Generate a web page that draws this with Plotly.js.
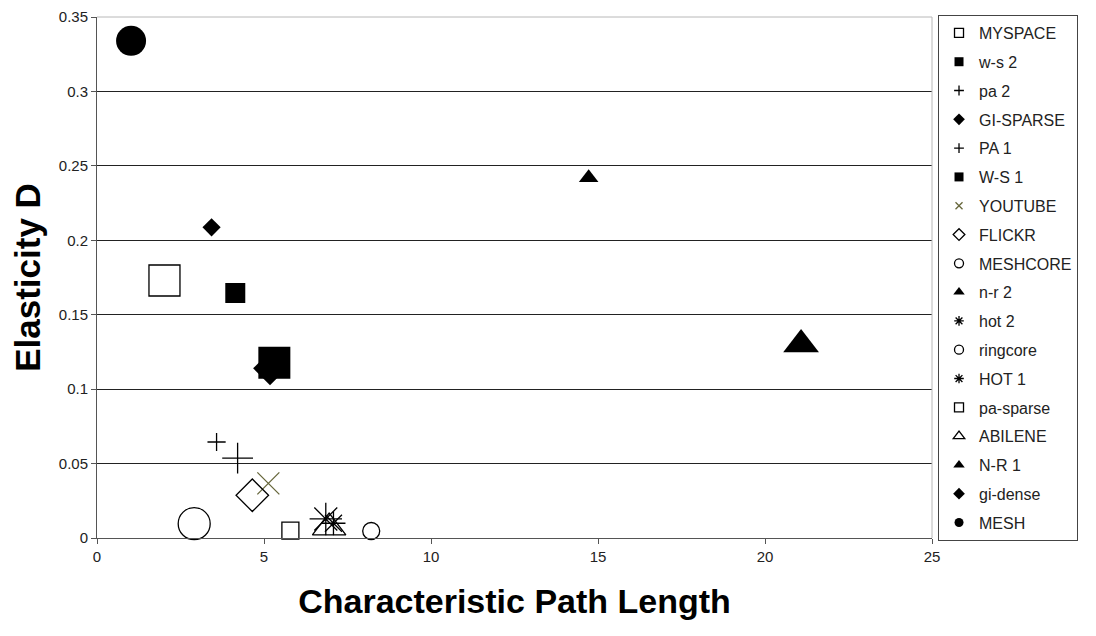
<!DOCTYPE html>
<html>
<head>
<meta charset="utf-8">
<script src="https://cdn.plot.ly/plotly-3.0.1.min.js"></script>
<style>
  html, body { margin: 0; padding: 0; background: #fff; }
  #chart { width: 1096px; height: 636px; }
</style>
</head>
<body>
<div id="chart"></div>
<script>
// series in legend order
const seriesNames = ["MYSPACE", "w-s 2", "pa 2", "GI-SPARSE", "PA 1", "W-S 1", "YOUTUBE", "FLICKR", "MESHCORE",
    "n-r 2", "hot 2", "ringcore", "HOT 1", "pa-sparse", "ABILENE", "N-R 1", "gi-dense", "MESH"];
const pathLength = [2.02, 4.14, 3.58, 3.43, 4.21, 5.31, 5.13, 4.65, 2.91,
    14.72, 7.08, 8.21, 6.85, 5.79, 6.95, 21.08, 5.18, 1.02];
const elasticity = [0.173, 0.1646, 0.0645, 0.2087, 0.0537, 0.1178, 0.0367, 0.0287, 0.0096,
    0.242, 0.0099, 0.0047, 0.0128, 0.0049, 0.0070, 0.130, 0.114, 0.334];

const xTickVals = [0, 5, 10, 15, 20, 25];
const yTickVals = [0, 0.05, 0.1, 0.15, 0.2, 0.25, 0.3, 0.35];

// marker look per series (symbol, size on plot, size in legend, colour)
const styles = {
    "MYSPACE":   { symbol: "square-open", size: 31, lsize: 9 },
    "w-s 2":     { symbol: "square", size: 20, lsize: 9 },
    "pa 2":      { symbol: "cross-thin-open", size: 13, lsize: 7 },
    "GI-SPARSE": { symbol: "diamond", size: 14, lsize: 9 },
    "PA 1":      { symbol: "cross-thin-open", size: 22, lsize: 7 },
    "W-S 1":     { symbol: "square", size: 32, lsize: 9 },
    "YOUTUBE":   { symbol: "x-thin-open", size: 22, lsize: 7, color: "#66663a" },
    "FLICKR":    { symbol: "diamond-open", size: 25, lsize: 9 },
    "MESHCORE":  { symbol: "circle-open", size: 32, lsize: 9 },
    "n-r 2":     { symbol: "triangle-up", size: 17, lsize: 10 },
    "hot 2":     { symbol: "asterisk-open", size: 20, lsize: 8 },
    "ringcore":  { symbol: "circle-open", size: 17, lsize: 9 },
    "HOT 1":     { symbol: "asterisk-open", size: 27, lsize: 8 },
    "pa-sparse": { symbol: "square-open", size: 17, lsize: 9 },
    "ABILENE":   { symbol: "triangle-up-open", size: 29, lsize: 10 },
    "N-R 1":     { symbol: "triangle-up", size: 31, lsize: 10 },
    "gi-dense":  { symbol: "diamond", size: 26, lsize: 9 },
    "MESH":      { symbol: "circle", size: 30, lsize: 9 }
};

// gi-dense is drawn before W-S 1 so the big square sits on top of it
const drawOrder = [16, 0, 1, 2, 3, 4, 5, 6, 7, 8, 9, 10, 11, 12, 13, 14, 15, 17];

function markerFor(name, size) {
    let s = styles[name];
    let color = s.color || "#000";
    let open = s.symbol.indexOf("open") >= 0;
    return {
        symbol: s.symbol,
        size: size,
        color: color,
        line: { color: color, width: open ? 1.3 : 0 }
    };
}

let traces = [];

// points on the plot
drawOrder.forEach(i => {
    let name = seriesNames[i];
    traces.push({
        x: [pathLength[i]],
        y: [elasticity[i]],
        type: "scatter",
        mode: "markers",
        name: name,
        legendgroup: name,
        showlegend: false,
        cliponaxis: false,
        marker: markerFor(name, styles[name].size)
    });
});

// legend entries with small symbols
seriesNames.forEach(name => {
    traces.push({
        x: [null],
        y: [null],
        type: "scatter",
        mode: "markers",
        name: name,
        legendgroup: name,
        showlegend: true,
        marker: markerFor(name, styles[name].lsize)
    });
});

const fontFamily = "Liberation Sans, Arial, sans-serif";

let layout = {
    width: 1096,
    height: 636,
    margin: { l: 97, r: 164, t: 17, b: 98 },
    paper_bgcolor: "#fff",
    plot_bgcolor: "#fff",
    font: { family: fontFamily, color: "#222", size: 15 },
    showlegend: true,
    legend: {
        x: 1.0072,
        y: 1.0038,
        xanchor: "left",
        yanchor: "top",
        maxheight: 1,
        bgcolor: "#fff",
        bordercolor: "#444",
        borderwidth: 1,
        traceorder: "grouped",
        tracegroupgap: 5,
        itemwidth: 30,
        font: { family: fontFamily, size: 16, color: "#222" }
    },
    xaxis: {
        range: [0, 25],
        tickvals: xTickVals,
        ticks: "outside",
        ticklen: 5,
        tickcolor: "#555",
        showline: true,
        linecolor: "#555",
        linewidth: 1,
        showgrid: false,
        zeroline: false,
        tickfont: { size: 15, color: "#222" },
        title: {
            text: "Characteristic Path Length",
            font: { family: fontFamily, size: 34, color: "#000", weight: "bold" },
            standoff: 25
        }
    },
    yaxis: {
        range: [0, 0.35],
        tickvals: yTickVals,
        ticks: "outside",
        ticklen: 5,
        tickcolor: "#555",
        showline: true,
        linecolor: "#555",
        linewidth: 1,
        showgrid: true,
        gridcolor: "#222",
        gridwidth: 1,
        zeroline: false,
        tickfont: { size: 15, color: "#222" },
        title: {
            text: "Elasticity D",
            font: { family: fontFamily, size: 35, color: "#000", weight: "bold" },
            standoff: 7
        }
    },
    shapes: [
        { type: "line", xref: "paper", yref: "paper", x0: 0, x1: 1, y0: 1, y1: 1,
          line: { color: "#b8b8b8", width: 1 }, layer: "above" },
        { type: "line", xref: "paper", yref: "paper", x0: 1, x1: 1, y0: 0, y1: 1,
          line: { color: "#b8b8b8", width: 1 }, layer: "above" }
    ]
};

Plotly.newPlot("chart", traces, layout, { displayModeBar: false, staticPlot: true });
</script>
</body>
</html>
